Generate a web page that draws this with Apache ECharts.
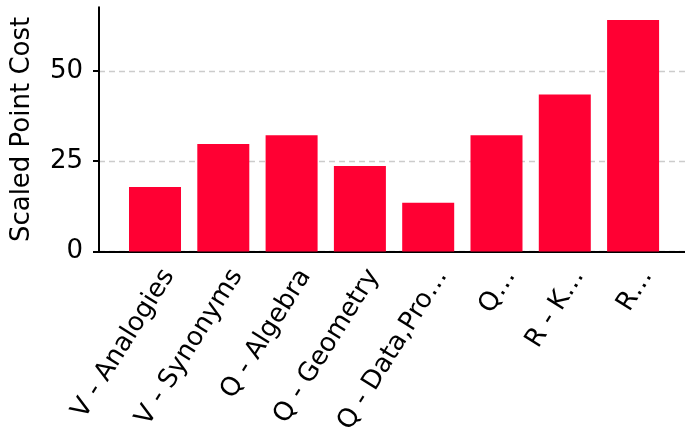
<!DOCTYPE html>
<html>
<head>
<meta charset="utf-8">
<script src="https://cdn.jsdelivr.net/npm/echarts@6/dist/echarts.min.js"></script>
<style>html,body{margin:0;padding:0;background:#fff}#c{width:685px;height:437px}</style>
</head>
<body>
<div id="c"></div>
<script>
const categories = ["V - Analogies", "V - Synonyms", "Q - Algebra", "Q - Geometry", "Q - Data,Pro…", "Q…", "R - K…", "R…"];
const values = [17.9, 29.75, 32.2, 23.7, 13.5, 32.2, 43.5, 64.1];
const yTicks = [0, 25, 50];

const LABEL_SHIFT = 0.2;
const chart = echarts.init(document.getElementById('c'), null, {renderer: 'canvas'});
const font = 'DejaVu Sans';
chart.setOption({
  animation: false,
  grid: {left: 99, right: 0, top: 7.3, bottom: 183.7, containLabel: false},
  xAxis: {
    type: 'value', min: -0.82, max: 7.76,
    axisLine: {show: true, onZero: false, lineStyle: {color: '#000', width: 2}},
    axisTick: {show: false},
    splitLine: {show: false},
    axisLabel: {
      customValues: categories.map((_, i) => i + LABEL_SHIFT),
      formatter: v => categories[Math.round(v - LABEL_SHIFT)] || '',
      rotate: 58, margin: 20, color: '#000', fontSize: 26, fontFamily: font
    }
  },
  yAxis: {
    type: 'value', min: 0, max: 67.6, interval: 25,
    name: 'Scaled Point Cost', nameLocation: 'middle', nameGap: 64,
    nameTextStyle: {color: '#000', fontSize: 26, fontFamily: font},
    axisLine: {show: true, onZero: false, lineStyle: {color: '#000', width: 2}},
    axisTick: {show: true, length: 6, lineStyle: {color: '#000', width: 2}, customValues: yTicks},
    axisLabel: {color: '#000', fontSize: 26, fontFamily: font, margin: 16, customValues: yTicks},
    splitLine: {show: true, lineStyle: {color: '#cccccc', type: [6, 4], width: 1.3}}
  },
  series: [{
    type: 'bar',
    data: values.map((v, i) => [i, v]),
    barWidth: 52,
    itemStyle: {color: '#ff0033'}
  }]
});
</script>
</body>
</html>
